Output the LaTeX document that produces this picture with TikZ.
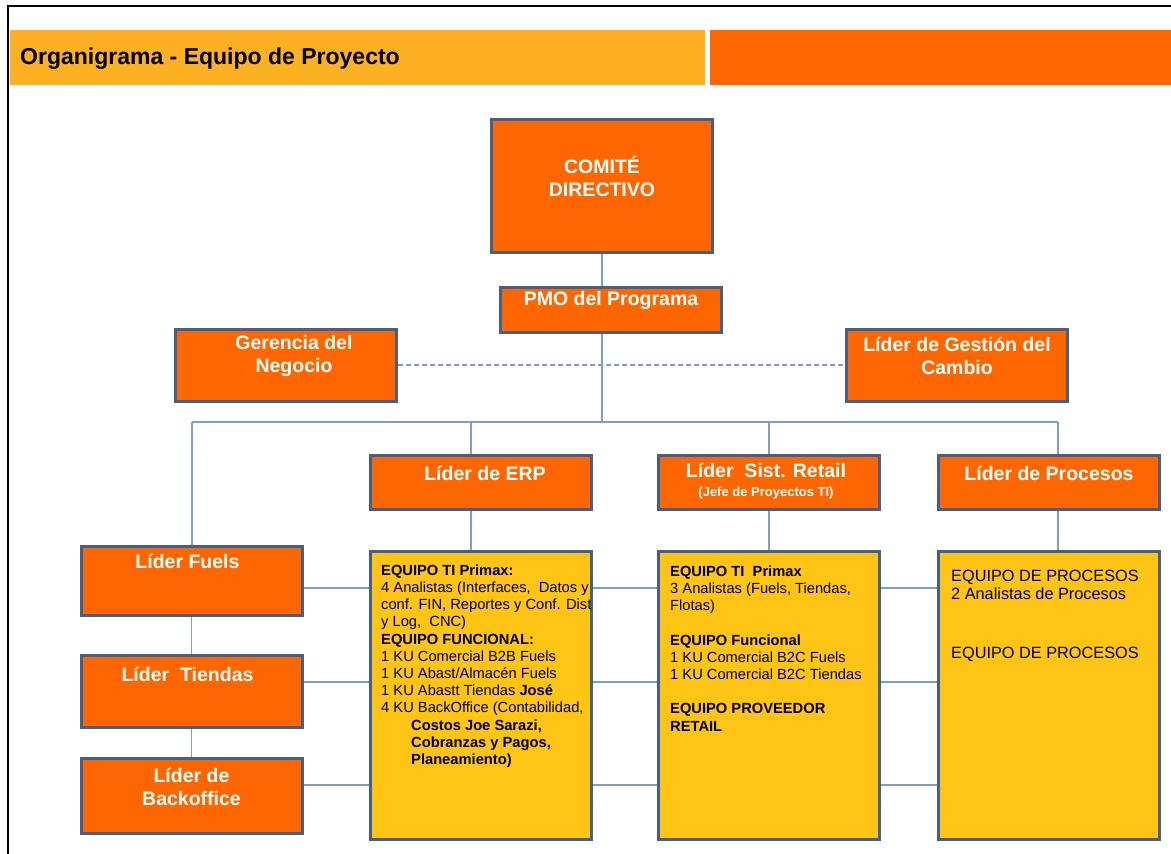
\documentclass[tikz,border=0pt]{standalone}
\usepackage{fontspec}
\setmainfont{Liberation Sans}
\usetikzlibrary{backgrounds}
\definecolor{orng}{HTML}{FF6600}
\definecolor{hdrl}{HTML}{FCB123}
\definecolor{yell}{HTML}{FFC414}
\definecolor{bordc}{HTML}{42608A}
\definecolor{connc}{HTML}{7E9DCF}
\begin{document}
\begin{tikzpicture}[x=1pt,y=-1pt,
  obox/.style={draw=bordc, line width=3pt, fill=orng, minimum width=221pt, inner sep=0pt},
  ybox/.style={draw=bordc, line width=3pt, fill=yell, minimum width=221pt, minimum height=288pt, inner sep=0pt},
  ttl/.style={text=white, font=\bfseries\fontsize{19.5}{22.5}\selectfont, align=center, inner sep=0pt},
  body/.style={text=black, font=\fontsize{14.7}{17.2}\selectfont, align=left, inner sep=0pt, anchor=north west},
  conn/.style={draw=connc, line width=1.3pt},
]
\useasboundingbox (0,0) rectangle (1171,854);

% frame and header band
\draw[line width=2pt] (1171,6) -- (8,6) -- (8,854);
\fill[hdrl] (10,30) rectangle (705,85);
\fill[orng] (710,30) rectangle (1171,85);
\node[anchor=west, inner sep=0pt, font=\bfseries\fontsize{23}{27}\selectfont] (title) at (20,59) {Organigrama - Equipo de Proyecto};

% top levels
\node[obox, minimum height=133pt, label={[ttl, yshift=9pt]center:{COMITÉ\\DIRECTIVO}}] (comite) at (602,185.5) {};
\node[obox, minimum height=45pt, label={[ttl, yshift=9.5pt]center:{PMO del Programa}}] (pmo) at (611,309.5) {};
\node[obox, minimum height=72pt, label={[ttl, xshift=8pt, yshift=9pt]center:{Gerencia del\\Negocio}}] (ger) at (286,365) {};
\node[obox, minimum height=72pt, label={[ttl, yshift=9pt]center:{Líder de Gestión del\\Cambio}}] (cam) at (957,365) {};

% second level leaders
\node[obox, minimum height=54pt, label={[ttl, xshift=4pt, yshift=9pt]center:{Líder de ERP}}] (erp) at (481,482) {};
\node[obox, minimum height=54pt, label={[ttl, xshift=-3pt, yshift=1pt]center:{Líder\ \ Sist. Retail\\[-4pt]{\fontsize{13}{15}\selectfont(Jefe de Proyectos TI)}}}] (ret) at (769,482) {};
\node[obox, minimum height=54pt, label={[ttl, yshift=9pt]center:{Líder de Procesos}}] (proc) at (1049,482) {};

% business line leaders
\node[obox, minimum height=69pt, label={[ttl, xshift=-4pt, yshift=19.5pt]center:{Líder Fuels}}] (fuels) at (191.5,580.5) {};
\node[obox, minimum height=72pt, label={[ttl, xshift=-4pt, yshift=17pt]center:{Líder\ \ Tiendas}}] (tiendas) at (191.5,691) {};
\node[obox, minimum height=75pt, label={[ttl, yshift=8.5pt]center:{Líder de\\Backoffice}}] (back) at (191.5,795.5) {};

% teams
\node[ybox, label={[body, xshift=12pt, yshift=-15pt]north west:{%
\textbf{EQUIPO TI Primax:}\\
4 Analistas (Interfaces,~ Datos y\\
conf. FIN, Reportes y Conf. Dist\\
y Log,~ CNC)\\
\textbf{EQUIPO FUNCIONAL:}\\
1 KU Comercial B2B Fuels\\
1 KU Abast/Almacén Fuels\\
1 KU Abastt Tiendas \textbf{José}\\
4 KU BackOffice (Contabilidad,\\
\hspace*{30pt}\textbf{Costos Joe Sarazi,}\\
\hspace*{30pt}\textbf{Cobranzas y Pagos,}\\
\hspace*{30pt}\textbf{Planeamiento)}}}] (erpteam) at (481,695) {};

\node[ybox, label={[body, xshift=13pt, yshift=-16pt]north west:{%
\textbf{EQUIPO TI~ Primax}\\
3 Analistas (Fuels, Tiendas,\\
Flotas)\\[17.2pt]
\textbf{EQUIPO Funcional}\\
1 KU Comercial B2C Fuels\\
1 KU Comercial B2C Tiendas\\[17.2pt]
\textbf{EQUIPO PROVEEDOR}\\
\textbf{RETAIL}}}] (retteam) at (769,695) {};

\node[ybox, label={[body, font=\fontsize{16.3}{18}\selectfont, xshift=14pt, yshift=-20pt]north west:{%
EQUIPO DE PROCESOS\\
2 Analistas de Procesos\\[41pt]
EQUIPO DE PROCESOS}}] (procteam) at (1049,695) {};

% connectors, kept behind the boxes
\begin{scope}[on background layer]
\coordinate (bus) at (602,422);
\coordinate (busL) at (192,422);
\coordinate (busR) at (1058,422);
\coordinate (dErp) at (471,422);
\coordinate (dRet) at (769,422);
\draw[conn] (comite.south) -- (bus);
\draw[conn] (busL) -- (busR);
\draw[conn] (busL) -- (busL |- fuels.north);
\draw[conn] (dErp) -- (dErp |- erpteam.north);
\draw[conn] (dRet) -- (retteam.north);
\draw[conn] (busR) -- (busR |- procteam.north);
\draw[conn] (fuels.south) -- (tiendas.north);
\draw[conn] (tiendas.south) -- (back.north);
\draw[conn] ([yshift=-7.5pt]fuels.east) coordinate (r1) -- (r1 -| procteam.west);
\draw[conn] ([yshift=9pt]tiendas.east) coordinate (r2) -- (r2 -| procteam.west);
\draw[conn] ([yshift=10.5pt]back.east) coordinate (r3) -- (r3 -| procteam.west);
\draw[conn, dash pattern=on 5pt off 3pt] (ger.east) -- (cam.west);
\end{scope}
\end{tikzpicture}
\end{document}
